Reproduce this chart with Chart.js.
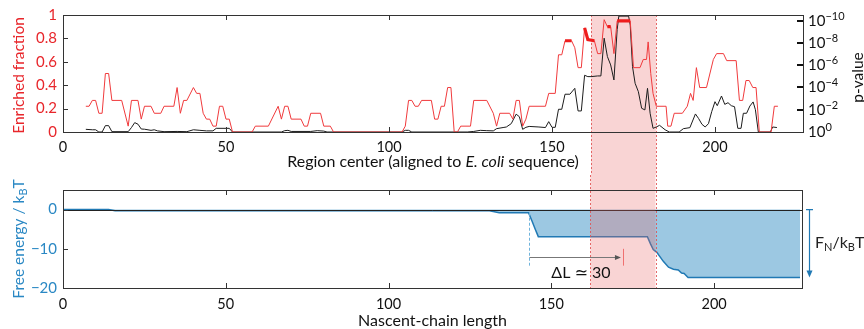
<!DOCTYPE html>
<html><head><meta charset="utf-8">
<script src="https://cdn.jsdelivr.net/npm/chart.js@4/dist/chart.umd.min.js"></script>
<style>
html,body{margin:0;padding:0;background:#fff;overflow:hidden}
#wrap{position:relative;width:864px;height:329px}
#c1{position:absolute;left:0;top:0}
#c2{position:absolute;left:0;top:175px}
</style></head><body>
<div id="wrap">
<canvas id="c1" width="864" height="175" style="width:864px;height:175px"></canvas>
<canvas id="c2" width="864" height="154" style="width:864px;height:154px"></canvas>
</div>
<script>
// ---------- data ----------
const X_TICKS = [0, 50, 100, 150, 200];
const FRAC_TICKS = [0, 0.2, 0.4, 0.6, 0.8, 1];
const FRAC_LABELS = ['0', '0.2', '0.4', '0.6', '0.8', '1'];
const P_TICKS = [0, 2, 4, 6, 8, 10];          // -log10(p)
const P_EXPONENTS = ['0', '−2', '−4', '−6', '−8', '−10'];
const FE_TICKS = [-20, -10, 0];
const FE_LABELS = ['−20', '−10', '0'];
const REGION = [162, 182];

// enriched fraction (region center, fraction)
const enriched = [[7,0.22],[8,0.22],[9,0.27],[10,0.27],[11,0.16],[12,0.16],[13,0.5],[14,0.5],[15,0.27],[18,0.27],[20,0.05],[21,0.27],[23,0.27],[24,0.11],[25,0.22],[27,0.22],[28,0.16],[30,0.16],[31,0.22],[34,0.22],[35,0.38],[36,0.16],[37,0.27],[38,0.27],[40,0.38],[41,0.33],[42,0.33],[43,0.16],[44,0.11],[45,0.11],[46,0.05],[47,0.05],[48,0.22],[49,0.22],[50,0.11],[51,0.11],[52,0],[58,0],[59,0.05],[63,0.05],[66,0.22],[67,0.11],[68,0.22],[69,0.22],[70,0.11],[73,0.11],[74,0.05],[75,0.05],[76,0.16],[79,0.16],[80,0.05],[82,0.05],[83,0],[104,0],[105,0.05],[106,0.27],[107,0.27],[108,0.22],[109,0.22],[110,0.27],[113,0.27],[114,0.11],[115,0.11],[116,0.22],[117,0.22],[118,0.38],[119,0.38],[120,0],[121,0],[122,0.05],[125,0.05],[126,0.27],[130,0.27],[132,0.16],[133,0.05],[134,0.16],[137,0.16],[138,0.11],[139,0.27],[140,0.27],[141,0.05],[142,0.11],[143,0.22],[148,0.22],[149,0.33],[151,0.33],[152,0.66],[153,0.66],[154,0.78],[156,0.78],[157,0.72],[158,0.55],[159,0.55],[160,0.89],[161,0.79],[163,0.78],[164,0.67],[165,0.67],[166,0.96],[167,0.9],[168,0.9],[169,0.67],[170,0.95],[174,0.95],[175,0.55],[177,0.55],[178,0.62],[179,0.62],[179.5,0.77],[180.3,0.5],[181,0.33],[182,0.22],[185,0.22],[185.5,0.05],[186.5,0.05],[187.5,0.16],[190,0.16],[191.5,0.22],[192.5,0.33],[193.3,0.27],[194.3,0.55],[195.3,0.38],[197.4,0.38],[199.5,0.62],[200.5,0.67],[202.6,0.67],[203.6,0.61],[206.5,0.61],[207.5,0.27],[208.5,0.27],[209.5,0.44],[210.5,0.44],[211.6,0.38],[212.6,0.38],[213.6,0],[217.2,0],[218.2,0.22],[219.3,0.22]];

// significant stretches (drawn thick)
const significant = [[[154,0.78],[156,0.78]], [[160,0.89],[161,0.79],[163,0.78]], [[167,0.9],[168,0.9]], [[170,0.95],[174,0.95]]];

// p-value as -log10(p)
const pvalue = [[7,0.24],[9,0.2],[10,0.2],[11,0],[12,0],[13,0.57],[14,0.57],[15,0.03],[20,0.03],[21,0.4],[22,0.84],[23,0.7],[24,0.27],[25,0.25],[27,0.15],[28,0.2],[29,0.1],[31,0.03],[35,0.05],[38,0.03],[40,0.2],[42,0.15],[44,0.1],[46,0.1],[47,0.33],[51,0.33],[52,0],[67,0],[68,0.12],[69,0.15],[70,0.05],[76,0.05],[78,0.12],[80,0.08],[81,0],[104,0],[105,0.15],[106,0.15],[107,0],[124,0],[126,0.05],[128,0.15],[130,0.12],[132,0.1],[133,0.3],[135,0.4],[136,0.45],[137.5,0.75],[139,1.6],[140,1.37],[141,0.24],[142,0.42],[143,0.5],[146,0.45],[148,0.4],[149,0.93],[150,0.42],[151,0.42],[152,2.04],[153,2.04],[154,3.39],[155.5,3.39],[157,3.92],[158,1.89],[159,1.89],[160,5.09],[161,4.97],[162,4.97],[164,5.03],[165,5.03],[166,8.42],[167,6.77],[168,6.02],[169,4.67],[170,9.2],[170.5,10.4],[173.5,10.4],[174,9.6],[174.7,5.87],[175.5,4.37],[176.5,3.62],[177.5,2.13],[178.5,1.98],[179.3,3.92],[180.1,1.68],[181,0.33],[182,0.45],[183,0.6],[184.7,0.2],[186,0],[189,0],[190.3,0.3],[192.3,0.39],[194,1.62],[195,1.2],[196,0.69],[197,0.45],[198,0.75],[199,1.83],[200,2.72],[200.7,2.36],[202,3.23],[203,2.48],[204,2.63],[205,2.36],[206,2.27],[207,0.33],[208,0.33],[208.7,1.68],[209.7,1.68],[210.7,2.33],[211.7,2.7],[212.4,2.0],[213.3,0],[217,0],[217.7,0.45],[219,0.4]];

// free energy (nascent-chain length, F/kBT)
const freeEnergy = [[0,0],[14,0],[16,-0.3],[131,-0.3],[134,-0.8],[143,-0.8],[144,-2.8],[145,-4.9],[146,-6.9],[179.5,-6.9],[180.5,-8.8],[181.3,-10.2],[182.4,-10.9],[184.4,-13.2],[186,-14.7],[187.5,-15.2],[189,-15.4],[190,-16.2],[190.8,-16.3],[192,-17.3],[226.4,-17.3]];

const DELTA_L = {start: 143, end: 172, y: -12.2, label: 'ΔL ≃ 30'};
const FN_DEPTH = -17.3;

// ---------- style ----------
const FONT = 'Lato, "Liberation Sans", "DejaVu Sans", sans-serif';
const RED_LINE = '#f03a3c', RED_TEXT = '#e8262b', BLACK = '#1c1c1c';
const BLUE_LINE = '#2079b4', BLUE_FILL = 'rgb(156,200,226)', BLUE_TEXT = '#2a88c4';
const BAND_FILL = 'rgba(232,100,100,0.28)', BAND_EDGE = 'rgba(225,80,80,0.85)';
const FRAME = '#333';
Chart.defaults.font.family = FONT;
Chart.defaults.font.size = 14;

const pts = arr => arr.map(([x, y]) => ({x, y}));
const sigData = [];
significant.forEach((seg, i) => { if (i) sigData.push({x: seg[0][0] - 0.5, y: null}); sigData.push(...pts(seg)); });

function rich(ctx, parts, x, y, align, color) {
  ctx.save(); ctx.fillStyle = color; ctx.textBaseline = 'alphabetic';
  let w = 0;
  parts.forEach(p => { ctx.font = p.f; p.w = ctx.measureText(p.t).width; w += p.w; });
  let cx = align === 'center' ? x - w / 2 : align === 'right' ? x - w : x;
  parts.forEach(p => { ctx.font = p.f; ctx.fillText(p.t, cx, y + (p.dy || 0)); cx += p.w; });
  ctx.restore();
}
const F = (s, st) => (st ? st + ' ' : '') + s + 'px ' + FONT;

function frameAndTicks(chart, yScale, yTicks, rightScale, rightTicks) {
  const {ctx, chartArea: a, scales: {x}} = chart;
  ctx.save();
  ctx.strokeStyle = FRAME; ctx.lineWidth = 1;
  ctx.strokeRect(Math.round(a.left) + 0.5, Math.round(a.top) + 0.5, Math.round(a.right - a.left), Math.round(a.bottom - a.top));
  ctx.beginPath();
  X_TICKS.forEach(v => {
    if (v === x.min) return;
    const p = Math.round(x.getPixelForValue(v)) + 0.5;
    ctx.moveTo(p, a.bottom); ctx.lineTo(p, a.bottom - 5);
    ctx.moveTo(p, a.top); ctx.lineTo(p, a.top + 5);
  });
  yTicks.forEach(v => {
    if (v === yScale.min || v === yScale.max) return;
    const p = Math.round(yScale.getPixelForValue(v)) + 0.5;
    ctx.moveTo(a.left, p); ctx.lineTo(a.left + 5, p);
  });
  ctx.stroke();
  if (rightScale) {
    ctx.lineWidth = 2; ctx.strokeStyle = '#111';
    ctx.beginPath();
    rightTicks.forEach(v => {
      if (v === rightScale.min) return;
      const p = Math.round(rightScale.getPixelForValue(v));
      ctx.moveTo(a.right, p); ctx.lineTo(a.right - 6, p);
    });
    ctx.stroke();
  }
  ctx.restore();
}

// ---------- top chart ----------
const topDeco = {
  id: 'topDeco',
  beforeDatasetsDraw(chart) {
    const {ctx, chartArea: a, scales: {x}} = chart;
    const x0 = x.getPixelForValue(REGION[0]), x1 = x.getPixelForValue(REGION[1]);
    ctx.save();
    ctx.fillStyle = BAND_FILL; ctx.fillRect(x0, a.top, x1 - x0, chart.height - a.top);
    ctx.strokeStyle = BAND_EDGE; ctx.lineWidth = 1; ctx.setLineDash([2, 2]);
    [x0, x1].forEach(p => { ctx.beginPath(); ctx.moveTo(Math.round(p) + 0.5, a.top); ctx.lineTo(Math.round(p) + 0.5, chart.height); ctx.stroke(); });
    ctx.restore();
  },
  afterDraw(chart) {
    const {ctx, chartArea: a, scales: {y, y2}} = chart;
    frameAndTicks(chart, y, FRAC_TICKS, y2, P_TICKS);
    // right tick labels 10^-n
    P_TICKS.forEach((v, i) => {
      const p = y2.getPixelForValue(v);
      rich(ctx, [{t: '10', f: F(15)}, {t: P_EXPONENTS[i], f: F(11), dy: -6}], a.right + 5, p + 5, 'left', '#111');
    });
    // left title
    ctx.save(); ctx.translate(19, (a.top + a.bottom) / 2 + 2); ctx.rotate(-Math.PI / 2);
    rich(ctx, [{t: 'Enriched fraction', f: F(15.5)}], 0, 5, 'center', RED_TEXT);
    ctx.restore();
    // right title
    ctx.save(); ctx.translate(858, (a.top + a.bottom) / 2 + 4); ctx.rotate(-Math.PI / 2);
    rich(ctx, [{t: 'p-value', f: F(15.5)}], 0, 5, 'center', '#111');
    ctx.restore();
    // x title
    rich(ctx, [{t: 'Region center (aligned to ', f: F(16)}, {t: 'E. coli', f: F(16, 'italic')}, {t: ' sequence)', f: F(16)}],
      (a.left + a.right) / 2, 167, 'center', '#111');
  }
};

new Chart(document.getElementById('c1'), {
  type: 'line',
  data: {datasets: [
    {data: sigData, yAxisID: 'y', borderColor: '#ee1c1c', borderWidth: 3.2, pointRadius: 0, spanGaps: false, borderCapStyle: 'butt'},
    {data: pts(enriched), yAxisID: 'y', borderColor: RED_LINE, borderWidth: 1, pointRadius: 0},
    {data: pts(pvalue), yAxisID: 'y2', borderColor: BLACK, borderWidth: 1, pointRadius: 0}
  ]},
  options: {
    responsive: false, animation: false, devicePixelRatio: 1,
    layout: {padding: {top: 15, left: 0, right: 0, bottom: 0}},
    plugins: {legend: {display: false}, tooltip: {enabled: false}},
    elements: {line: {tension: 0}},
    scales: {
      x: {type: 'linear', min: 0, max: 227, position: 'bottom',
        afterBuildTicks: s => { s.ticks = X_TICKS.map(v => ({value: v})); },
        afterFit: s => { s.height = 43; },
        grid: {display: false, drawTicks: false}, border: {display: false},
        ticks: {color: '#111', padding: 7, maxRotation: 0, autoSkip: false, font: {size: 14.5}}},
      y: {type: 'linear', min: 0, max: 1, position: 'left',
        afterBuildTicks: s => { s.ticks = FRAC_TICKS.map(v => ({value: v})); },
        afterFit: s => { s.width = 63; },
        grid: {display: false, drawTicks: false}, border: {display: false},
        ticks: {color: RED_TEXT, padding: 6, font: {size: 15}, callback: (v, i) => FRAC_LABELS[i]}},
      y2: {type: 'linear', min: 0, max: 10.5, position: 'right',
        afterBuildTicks: s => { s.ticks = P_TICKS.map(v => ({value: v})); },
        afterFit: s => { s.width = 61; },
        grid: {display: false, drawTicks: false}, border: {display: false},
        ticks: {display: false}}
    }
  },
  plugins: [topDeco]
});

// ---------- bottom chart ----------
const botDeco = {
  id: 'botDeco',
  afterDatasetsDraw(chart) {
    const {ctx, chartArea: a, scales: {x, y}} = chart;
    ctx.save();
    // zero line
    ctx.strokeStyle = '#222'; ctx.lineWidth = 1;
    const z = Math.round(y.getPixelForValue(0)) + 0.5;
    ctx.beginPath(); ctx.moveTo(a.left, z); ctx.lineTo(a.right, z); ctx.stroke();
    // band
    const x0 = x.getPixelForValue(REGION[0]), x1 = x.getPixelForValue(REGION[1]);
    ctx.fillStyle = BAND_FILL; ctx.fillRect(x0, 0, x1 - x0, a.bottom);
    ctx.strokeStyle = BAND_EDGE; ctx.setLineDash([2, 2]);
    [x0, x1].forEach(p => { ctx.beginPath(); ctx.moveTo(Math.round(p) + 0.5, 0); ctx.lineTo(Math.round(p) + 0.5, a.bottom); ctx.stroke(); });
    // dashed onset line
    ctx.strokeStyle = '#6fb3dc'; ctx.setLineDash([3, 2]);
    const xs = Math.round(x.getPixelForValue(DELTA_L.start)) + 0.5;
    ctx.beginPath(); ctx.moveTo(xs, y.getPixelForValue(-0.8)); ctx.lineTo(xs, y.getPixelForValue(-14.3)); ctx.stroke();
    ctx.setLineDash([]);
    // delta L arrow
    const ya = Math.round(y.getPixelForValue(DELTA_L.y)) + 0.5;
    const xe = x.getPixelForValue(DELTA_L.end) - 2;
    ctx.strokeStyle = '#777'; ctx.fillStyle = '#555';
    ctx.beginPath(); ctx.moveTo(xs, ya); ctx.lineTo(xe - 5, ya); ctx.stroke();
    ctx.beginPath(); ctx.moveTo(xe, ya); ctx.lineTo(xe - 6, ya - 2.5); ctx.lineTo(xe - 6, ya + 2.5); ctx.closePath(); ctx.fill();
    const xr = Math.round(x.getPixelForValue(DELTA_L.end)) + 0.5;
    ctx.strokeStyle = '#f07070';
    ctx.beginPath(); ctx.moveTo(xr, y.getPixelForValue(-10)); ctx.lineTo(xr, y.getPixelForValue(-14.3)); ctx.stroke();
    ctx.restore();
    rich(ctx, [{t: DELTA_L.label, f: F(16)}], x.getPixelForValue(150), y.getPixelForValue(-15.9) + 6, 'left', '#111');
  },
  afterDraw(chart) {
    const {ctx, chartArea: a, scales: {y}} = chart;
    frameAndTicks(chart, y, FE_TICKS, null, null);
    // F_N arrow
    ctx.save();
    const xa = a.right + 7.5, y0 = y.getPixelForValue(0), y1 = y.getPixelForValue(FN_DEPTH);
    ctx.strokeStyle = BLUE_LINE; ctx.fillStyle = BLUE_LINE; ctx.lineWidth = 1.2;
    ctx.beginPath(); ctx.moveTo(xa - 3.5, y0); ctx.lineTo(xa + 3.5, y0);
    ctx.moveTo(xa, y0); ctx.lineTo(xa, y1 - 5); ctx.stroke();
    ctx.beginPath(); ctx.moveTo(xa, y1); ctx.lineTo(xa - 3, y1 - 7); ctx.lineTo(xa + 3, y1 - 7); ctx.closePath(); ctx.fill();
    ctx.restore();
    rich(ctx, [{t: 'F', f: F(16)}, {t: 'N', f: F(11), dy: 3}, {t: '/k', f: F(16)}, {t: 'B', f: F(11), dy: 3}, {t: 'T', f: F(16)}],
      a.right + 13, (y0 + y1) / 2 + 4, 'left', '#222');
    // y title
    ctx.save(); ctx.translate(19, (a.top + a.bottom) / 2); ctx.rotate(-Math.PI / 2);
    rich(ctx, [{t: 'Free energy / k', f: F(15.5)}, {t: 'B', f: F(11), dy: 3}, {t: 'T', f: F(15.5)}], 0, 5, 'center', BLUE_TEXT);
    ctx.restore();
    // x title
    rich(ctx, [{t: 'Nascent-chain length', f: F(16)}], (a.left + a.right) / 2, 151, 'center', '#111');
  }
};

new Chart(document.getElementById('c2'), {
  type: 'line',
  data: {datasets: [
    {data: pts(freeEnergy), borderColor: BLUE_LINE, borderWidth: 1.5, pointRadius: 0, fill: 'origin', backgroundColor: BLUE_FILL}
  ]},
  options: {
    responsive: false, animation: false, devicePixelRatio: 1,
    layout: {padding: {top: 15, left: 0, right: 62, bottom: 0}},
    plugins: {legend: {display: false}, tooltip: {enabled: false}},
    elements: {line: {tension: 0}},
    scales: {
      x: {type: 'linear', min: 0, max: 227, position: 'bottom',
        afterBuildTicks: s => { s.ticks = X_TICKS.map(v => ({value: v})); },
        afterFit: s => { s.height = 41; },
        grid: {display: false, drawTicks: false}, border: {display: false},
        ticks: {color: '#111', padding: 8, maxRotation: 0, autoSkip: false, font: {size: 14.5}}},
      y: {type: 'linear', min: -20, max: 5, position: 'left',
        afterBuildTicks: s => { s.ticks = FE_TICKS.map(v => ({value: v})); },
        afterFit: s => { s.width = 63; },
        grid: {display: false, drawTicks: false}, border: {display: false},
        ticks: {color: BLUE_TEXT, padding: 6, font: {size: 15}, callback: (v, i) => FE_LABELS[i]}}
    }
  },
  plugins: [botDeco]
});
</script>
</body></html>
